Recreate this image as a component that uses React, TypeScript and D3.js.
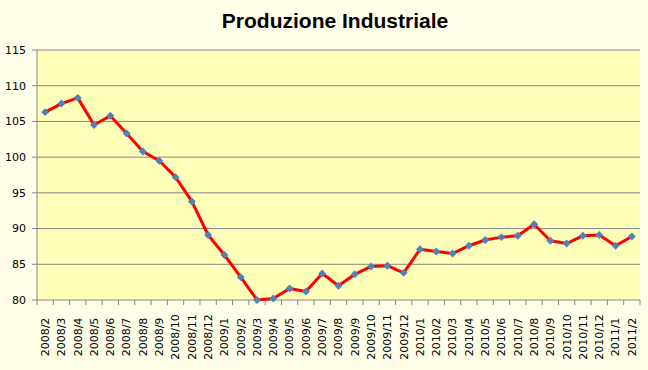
import * as d3 from "d3";

const months = [
  "2008/2", "2008/3", "2008/4", "2008/5", "2008/6", "2008/7", "2008/8", "2008/9",
  "2008/10", "2008/11", "2008/12", "2009/1", "2009/2", "2009/3", "2009/4", "2009/5",
  "2009/6", "2009/7", "2009/8", "2009/9", "2009/10", "2009/11", "2009/12", "2010/1",
  "2010/2", "2010/3", "2010/4", "2010/5", "2010/6", "2010/7", "2010/8", "2010/9",
  "2010/10", "2010/11", "2010/12", "2011/1", "2011/2",
];

const production = [
  106.3, 107.5, 108.3, 104.5, 105.8, 103.3, 100.8, 99.5,
  97.2, 93.8, 89.1, 86.3, 83.2, 80.0, 80.2, 81.6,
  81.2, 83.7, 82.0, 83.6, 84.7, 84.8, 83.8, 87.1,
  86.8, 86.5, 87.6, 88.4, 88.8, 89.0, 90.6, 88.3,
  87.9, 89.0, 89.1, 87.6, 88.9,
];

const yTicks = [80, 85, 90, 95, 100, 105, 110, 115];

const width = 648;
const height = 370;
const plot = { left: 37, right: 640, top: 50, bottom: 300 };
const labelFont = "'DejaVu Sans', Verdana, sans-serif";

export default function App() {
  const x = d3.scaleBand<string>()
    .domain(months)
    .range([plot.left, plot.right]);

  const y = d3.scaleLinear()
    .domain([80, 115])
    .range([plot.bottom, plot.top]);

  const line = d3.line<number>()
    .x((_, i) => (x(months[i]) ?? 0) + x.bandwidth() / 2)
    .y((d) => y(d));

  const diamond = d3.symbol().type(d3.symbolDiamond2).size(40)() ?? "";

  // tick marks sit on the category boundaries
  const boundaries = months.map((m) => x(m) ?? 0).concat([plot.right]);

  return (
    <svg
      width={width}
      height={height}
      style={{ position: "absolute", left: 0, top: 0, display: "block" }}
    >
      <rect x={0} y={0} width={width} height={height} fill="#FFFFE9" />
      <rect
        x={plot.left}
        y={plot.top}
        width={plot.right - plot.left}
        height={plot.bottom - plot.top}
        fill="#FFFFBA"
      />

      <text
        x={335}
        y={28}
        textAnchor="middle"
        fontFamily="'Liberation Sans Narrow', 'Liberation Sans', Arial, sans-serif"
        fontWeight="bold"
        fontSize={21}
        fill="#000"
      >
        Produzione Industriale
      </text>

      {yTicks.map((t) => (
        <g key={t}>
          {t > 80 && (
            <line
              x1={plot.left}
              x2={plot.right}
              y1={y(t)}
              y2={y(t)}
              stroke="#868686"
              strokeWidth={1}
            />
          )}
          <line x1={plot.left - 5} x2={plot.left} y1={y(t)} y2={y(t)} stroke="#868686" />
          <text
            x={26}
            y={y(t)}
            dy="0.35em"
            textAnchor="end"
            fontFamily={labelFont}
            fontSize={11}
            fill="#000"
          >
            {t}
          </text>
        </g>
      ))}

      <line x1={plot.left} x2={plot.left} y1={plot.top} y2={plot.bottom} stroke="#868686" />
      <line x1={plot.left} x2={plot.right} y1={plot.bottom} y2={plot.bottom} stroke="#868686" />

      {boundaries.map((bx, i) => (
        <line key={i} x1={bx} x2={bx} y1={plot.bottom} y2={plot.bottom + 5} stroke="#868686" />
      ))}

      {months.map((m) => {
        const cx = (x(m) ?? 0) + x.bandwidth() / 2;
        return (
          <text
            key={m}
            transform={`translate(${cx},337) rotate(-90)`}
            textAnchor="middle"
            dy="0.35em"
            fontFamily={labelFont}
            fontSize={11}
            fill="#000"
          >
            {m}
          </text>
        );
      })}

      <path
        d={line(production) ?? ""}
        fill="none"
        stroke="#FF0000"
        strokeWidth={3}
        strokeLinejoin="round"
      />

      {production.map((v, i) => (
        <path
          key={i}
          d={diamond}
          transform={`translate(${(x(months[i]) ?? 0) + x.bandwidth() / 2},${y(v)})`}
          fill="#4F81BD"
        />
      ))}
    </svg>
  );
}
